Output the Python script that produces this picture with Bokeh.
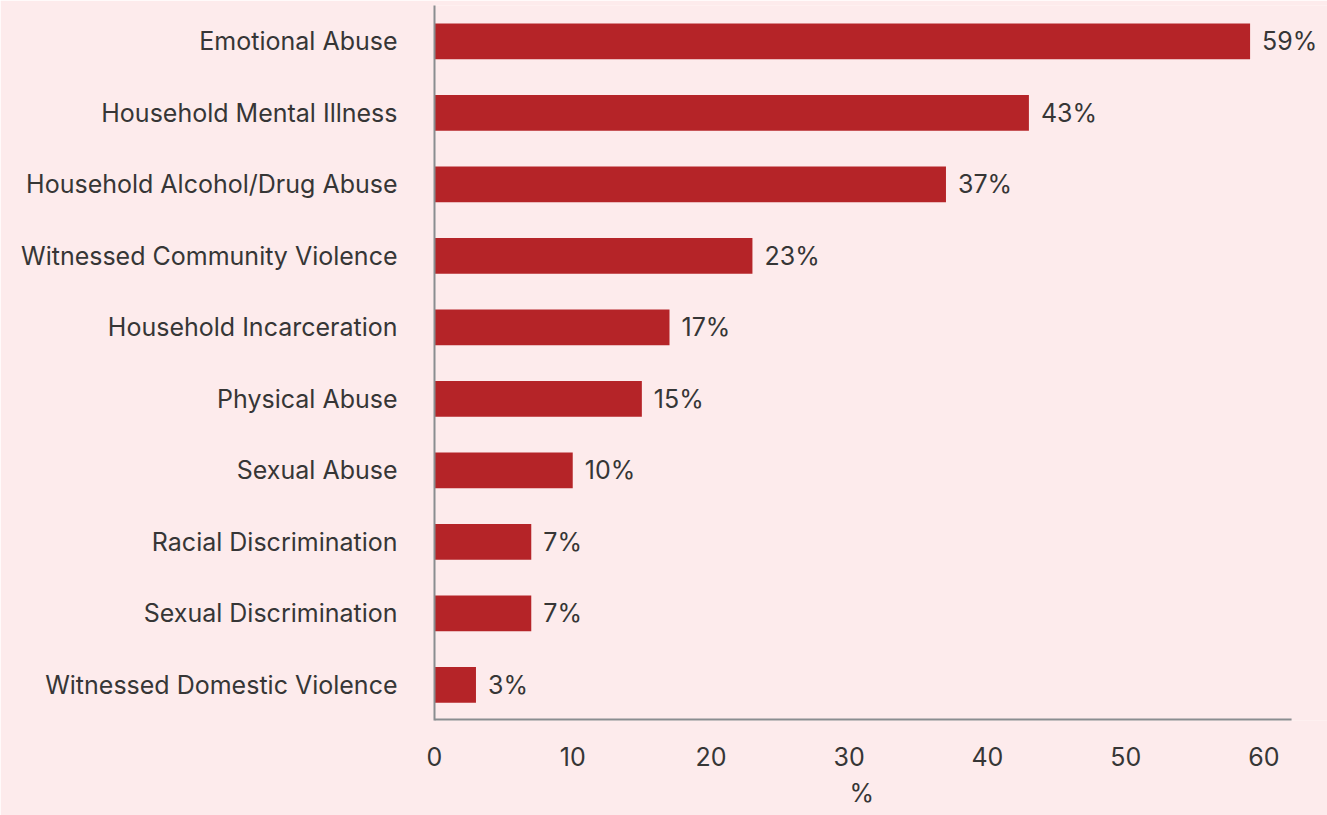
from bokeh.plotting import figure
from bokeh.models import ColumnDataSource, Range1d, FixedTicker, LabelSet, Title
from bokeh.core.properties import value
from bokeh.embed import file_html
from bokeh.resources import INLINE

categories = ["Emotional Abuse", "Household Mental Illness", "Household Alcohol/Drug Abuse",
              "Witnessed Community Violence", "Household Incarceration", "Physical Abuse",
              "Sexual Abuse", "Racial Discrimination", "Sexual Discrimination",
              "Witnessed Domestic Violence"]
values = [59, 43, 37, 23, 17, 15, 10, 7, 7, 3]
labels = [f"{v}%" for v in values]
x_ticks = [0, 10, 20, 30, 40, 50, 60]
x_title = "%"
axis_end = 62      # where the drawn x-axis line stops
view_end = 64.6    # room on the right for the value labels

FONT = "Inter"
FS = "25px"
BG = "#fdebec"
BAR = "#b52428"
TXT = "#363636"
AX = "#8a8d90"

src = ColumnDataSource(dict(cat=categories, val=values, lab=labels))

p = figure(width=1327, height=815, y_range=list(reversed(categories)),
           x_range=Range1d(0, view_end), output_backend="svg", toolbar_location=None,
           background_fill_color=BG, border_fill_color=BG,
           min_border_left=434, min_border_right=0, min_border_top=5, min_border_bottom=95)
p.outline_line_color = None
p.xgrid.grid_line_color = None
p.ygrid.grid_line_color = None
p.y_range.range_padding = 0

p.hbar(y="cat", right="val", left=0, height=0.5, source=src, fill_color=BAR, line_color=None)
p.add_layout(LabelSet(x="val", y="cat", text="lab", source=src, x_offset=12,
                      text_baseline="middle", text_align="left", text_font=value(FONT),
                      text_font_size=value(FS), text_color=value(TXT)))
# x-axis baseline, stopping short of the label margin
p.segment(x0=[0], y0=[0], x1=[axis_end], y1=[0], line_color=AX, line_width=4)

p.xaxis.ticker = FixedTicker(ticks=x_ticks)
for ax in (p.xaxis[0], p.yaxis[0]):
    ax.axis_line_color = AX
    ax.axis_line_width = 2
    ax.major_tick_line_color = None
    ax.minor_tick_line_color = None
    ax.major_label_text_font = FONT
    ax.major_label_text_font_size = FS
    ax.major_label_text_color = TXT
p.xaxis.axis_line_color = None
p.xaxis.major_label_standoff = 20

p.yaxis.major_label_standoff = 31

p.add_layout(Title(text=x_title, align="left", offset=415, text_font=FONT,
                   text_font_size=FS, text_font_style="normal", text_color=TXT,
                   standoff=14), "below")

open("out.html", "w").write(file_html(p, INLINE))
